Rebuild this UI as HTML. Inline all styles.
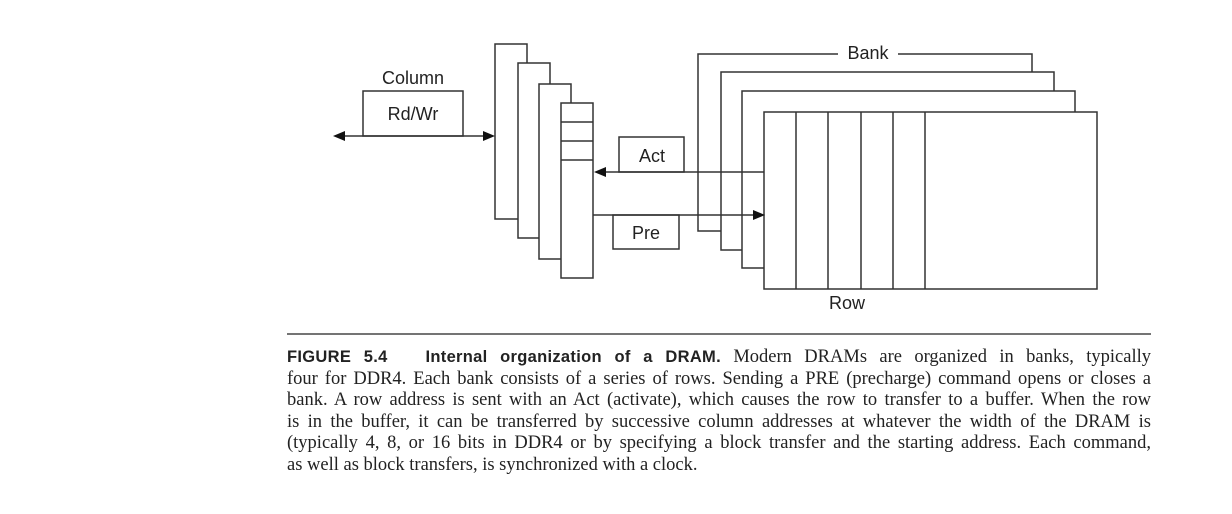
<!DOCTYPE html>
<html><head><meta charset="utf-8"><style>
body{margin:0;width:1232px;height:514px;background:#fff;overflow:hidden;position:relative}
svg{position:absolute;left:0;top:0}
.cap{position:absolute;left:287px;width:864px;font-family:"Liberation Serif",serif;font-size:18.5px;color:#222;white-space:nowrap;text-align:justify;text-align-last:justify;line-height:20px}
.b{font-family:"Liberation Sans",sans-serif;font-weight:bold;font-size:16.5px;letter-spacing:0.3px}
</style></head><body>
<svg width="1232" height="514" font-family="Liberation Sans, sans-serif" font-size="18" fill="none" stroke="#333" stroke-width="1.5">
<rect x="495" y="44" width="32" height="175" fill="#fff"/>
<rect x="518" y="63" width="32" height="175" fill="#fff"/>
<rect x="539" y="84" width="32" height="175" fill="#fff"/>
<rect x="561" y="103" width="32" height="175" fill="#fff"/>
<line x1="561" y1="122" x2="593" y2="122"/><line x1="561" y1="141" x2="593" y2="141"/><line x1="561" y1="160" x2="593" y2="160"/>
<rect x="363" y="91" width="100" height="45"/>
<line x1="340" y1="136" x2="488" y2="136"/>
<polygon points="333,136 345,131 345,141" fill="#111" stroke="none"/>
<polygon points="495,136 483,131 483,141" fill="#111" stroke="none"/>
<rect x="698" y="54" width="334" height="177" fill="#fff"/>
<rect x="721" y="72" width="333" height="178" fill="#fff"/>
<rect x="742" y="91" width="333" height="177" fill="#fff"/>
<rect x="764" y="112" width="333" height="177" fill="#fff"/>
<line x1="796" y1="112" x2="796" y2="289"/><line x1="828" y1="112" x2="828" y2="289"/><line x1="861" y1="112" x2="861" y2="289"/><line x1="893" y1="112" x2="893" y2="289"/><line x1="925" y1="112" x2="925" y2="289"/>
<rect x="838" y="42" width="60" height="22" fill="#fff" stroke="none"/>
<rect x="619" y="137" width="65" height="35" fill="#fff"/>
<line x1="764" y1="172" x2="602" y2="172"/>
<polygon points="594,172 606,167 606,177" fill="#111" stroke="none"/>
<rect x="613" y="215" width="66" height="34" fill="#fff"/>
<line x1="593" y1="215" x2="756" y2="215"/>
<polygon points="765,215 753,210 753,220" fill="#111" stroke="none"/>
<line x1="287" y1="334" x2="1151" y2="334" stroke="#222" stroke-width="1.3"/>
<g fill="#222" stroke="none" text-anchor="middle">
<text x="413" y="84">Column</text>
<text x="413" y="120">Rd/Wr</text>
<text x="652" y="162">Act</text>
<text x="646" y="239">Pre</text>
<text x="868" y="59">Bank</text>
<text x="847" y="309">Row</text>
</g>
</svg>
<div class="cap" style="top:347px"><span class="b">FIGURE 5.4&nbsp;&nbsp; Internal organization of a DRAM.</span> Modern DRAMs are organized in banks, typically</div>
<div class="cap" style="top:369px">four for DDR4. Each bank consists of a series of rows. Sending a PRE (precharge) command opens or closes a</div>
<div class="cap" style="top:390px">bank. A row address is sent with an Act (activate), which causes the row to transfer to a buffer. When the row</div>
<div class="cap" style="top:412px">is in the buffer, it can be transferred by successive column addresses at whatever the width of the DRAM is</div>
<div class="cap" style="top:433px">(typically 4, 8, or 16 bits in DDR4 or by specifying a block transfer and the starting address. Each command,</div>
<div class="cap" style="top:455px;text-align-last:left">as well as block transfers, is synchronized with a clock.</div>
</body></html>
